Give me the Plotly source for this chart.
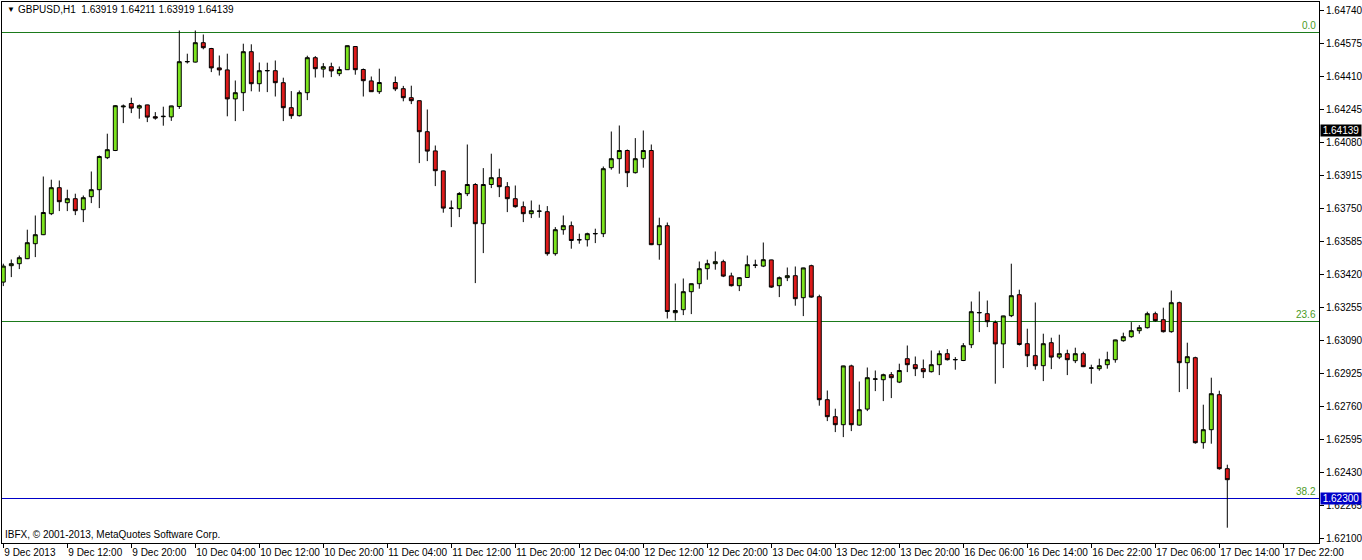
import plotly.graph_objects as go

# ---------------- data (GBPUSD H1) ----------------
time_labels = ["9 Dec 2013", "9 Dec 12:00", "9 Dec 20:00", "10 Dec 04:00", "10 Dec 12:00",
               "10 Dec 20:00", "11 Dec 04:00", "11 Dec 12:00", "11 Dec 20:00", "12 Dec 04:00",
               "12 Dec 12:00", "12 Dec 20:00", "13 Dec 04:00", "13 Dec 12:00", "13 Dec 20:00",
               "16 Dec 06:00", "16 Dec 14:00", "16 Dec 22:00", "17 Dec 06:00", "17 Dec 14:00",
               "17 Dec 22:00"]
label_step = 8  # bars between time labels

price_ticks = [1.64740, 1.64575, 1.64410, 1.64245, 1.64080, 1.63915, 1.63750, 1.63585, 1.63420,
               1.63255, 1.63090, 1.62925, 1.62760, 1.62595, 1.62430, 1.62265, 1.62100]

opens = [1.63382, 1.63464, 1.63474, 1.63499, 1.63574, 1.63619, 1.63724, 1.63854, 1.63779, 1.63799,
         1.63744, 1.63809, 1.63844, 1.64004, 1.64040, 1.64258, 1.64275, 1.64252, 1.64268, 1.64209,
         1.64209, 1.64208, 1.64260, 1.64483, 1.64482, 1.64579, 1.64550, 1.64453, 1.64443, 1.64298,
         1.64329, 1.64534, 1.64374, 1.64438, 1.64439, 1.64379, 1.64254, 1.64214, 1.64329, 1.64504,
         1.64447, 1.64459, 1.64424, 1.64444, 1.64560, 1.64445, 1.64388, 1.64334, None, 1.64380,
         1.64349, 1.64304, 1.64289, 1.64134, 1.64038, 1.63938, 1.63751, 1.63749, 1.63824, 1.63870,
         1.63674, 1.63870, 1.63904, 1.63859, 1.63799, 1.63759, 1.63724, 1.63736, 1.63734, 1.63524,
         1.63644, 1.63664, 1.63593, 1.63594, 1.63623, 1.63624, 1.63954, 1.63999, 1.64040, 1.63929,
         1.63999, 1.64040, 1.63569, 1.63664, 1.63229, 1.63244, 1.63334, 1.63374, 1.63449, 1.63474,
         1.63484, 1.63413, 1.63364, 1.63405, 1.63466, 1.63462, 1.63493, 1.63364, 1.63404, 1.63414,
         1.63304, 1.63464, 1.63309, 1.62794, 1.62709, 1.62669, 1.62963, 1.62667, 1.62747, 1.62896,
         1.62894, 1.62919, 1.62882, 1.62999, 1.62969, 1.62949, 1.62934, 1.62969, 1.63024, 1.62993,
         1.62990, 1.63069, 1.63228, 1.63224, 1.63180, 1.63073, 1.63214, 1.63319, 1.63074, 1.63014,
         1.62964, 1.63079, 1.63007, 1.63024, 1.62989, 1.63024, 1.62951, 1.62949, 1.62969, 1.62994,
         1.63089, 1.63109, 1.63139, 1.63154, 1.63224, 1.63194, 1.63134, 1.63279, 1.62979, 1.63004,
         1.62579, 1.62644, 1.62819, 1.62449]
highs = [1.63474, 1.63495, 1.63515, 1.63644, 1.63715, 1.63910, 1.63894, 1.63890, 1.63844, 1.63824,
         1.63815, 1.63935, 1.64015, 1.64124, 1.64267, 1.64270, 1.64304, 1.64270, 1.64269, 1.64232,
         1.64259, 1.64264, 1.64640, 1.64524, 1.64640, 1.64620, 1.64553, 1.64515, 1.64524, 1.64390,
         1.64574, 1.64571, 1.64480, 1.64479, 1.64490, 1.64404, 1.64337, 1.64340, 1.64514, 1.64512,
         1.64477, 1.64479, 1.64460, 1.64565, 1.64561, 1.64450, 1.64410, 1.64449, None, 1.64410,
         1.64363, 1.64364, 1.64290, 1.64245, 1.64065, 1.63940, 1.63790, 1.63832, 1.64070, 1.63877,
         1.63952, 1.64024, 1.63949, 1.63882, 1.63865, 1.63785, 1.63790, 1.63769, 1.63762, 1.63657,
         1.63715, 1.63685, 1.63624, 1.63629, 1.63649, 1.63960, 1.64135, 1.64165, 1.64045, 1.64102,
         1.64140, 1.64070, 1.63704, 1.63680, 1.63375, 1.63400, 1.63375, 1.63485, 1.63494, 1.63535,
         1.63494, 1.63429, 1.63407, 1.63515, 1.63494, 1.63580, 1.63494, 1.63410, 1.63455, 1.63460,
         1.63454, 1.63469, 1.63319, 1.62840, 1.62749, 1.62964, 1.62969, 1.62885, 1.62955, 1.62940,
         1.62924, 1.62932, 1.62974, 1.63065, 1.63010, 1.62995, 1.63040, 1.63040, 1.63047, 1.63007,
         1.63077, 1.63285, 1.63335, 1.63290, 1.63190, 1.63214, 1.63474, 1.63344, 1.63149, 1.63280,
         1.63124, 1.63104, 1.63119, 1.63044, 1.63054, 1.63034, 1.62969, 1.62999, 1.63034, 1.63094,
         1.63129, 1.63182, 1.63167, 1.63234, 1.63234, 1.63254, 1.63340, 1.63284, 1.63079, 1.63009,
         1.62769, 1.62904, 1.62839, 1.62469]
lows = [1.63362, 1.63407, 1.63447, 1.63497, 1.63507, 1.63617, 1.63717, 1.63737, 1.63737, 1.63717,
        1.63682, 1.63777, 1.63752, 1.63997, 1.64037, 1.64177, 1.64227, 1.64199, 1.64182, 1.64194,
        1.64164, 1.64188, 1.64248, 1.64475, 1.64480, 1.64546, 1.64432, 1.64415, 1.64211, 1.64187,
        1.64237, 1.64336, 1.64334, 1.64332, 1.64310, 1.64187, 1.64198, 1.64210, 1.64292, 1.64405,
        1.64405, 1.64407, 1.64412, 1.64443, 1.64419, 1.64310, 1.64333, 1.64323, None, 1.64337,
        1.64286, 1.64272, 1.63977, 1.63987, 1.63862, 1.63729, 1.63657, 1.63707, 1.63812, 1.63377,
        1.63527, 1.63852, 1.63807, 1.63732, 1.63754, 1.63682, 1.63702, 1.63704, 1.63514, 1.63514,
        1.63619, 1.63549, 1.63574, 1.63560, 1.63577, 1.63607, 1.63944, 1.63924, 1.63857, 1.63925,
        1.63954, 1.63567, 1.63494, 1.63200, 1.63190, 1.63217, 1.63222, 1.63349, 1.63394, 1.63444,
        1.63407, 1.63360, 1.63337, 1.63403, 1.63452, 1.63457, 1.63353, 1.63307, 1.63387, 1.63264,
        1.63212, 1.63304, 1.62764, 1.62687, 1.62632, 1.62607, 1.62637, 1.62664, 1.62737, 1.62837,
        1.62787, 1.62802, 1.62877, 1.62932, 1.62912, 1.62902, 1.62930, 1.62917, 1.62990, 1.62944,
        1.62987, 1.63052, 1.63132, 1.63157, 1.62874, 1.62952, 1.63207, 1.63065, 1.62957, 1.62944,
        1.62887, 1.62947, 1.62997, 1.62917, 1.62977, 1.62957, 1.62874, 1.62939, 1.62949, 1.62979,
        1.63084, 1.63104, 1.63124, 1.63150, 1.63184, 1.63130, 1.63129, 1.62832, 1.62847, 1.62574,
        1.62549, 1.62574, 1.62444, 1.62154]
closes = [1.63462, 1.63474, 1.63504, 1.63579, 1.63619, 1.63730, 1.63854, 1.63784, 1.63799, 1.63739,
          1.63804, 1.63844, 1.64010, 1.64044, 1.64264, 1.64262, 1.64252, 1.64264, 1.64207, 1.64202,
          1.64211, 1.64263, 1.64484, 1.64485, 1.64579, 1.64554, 1.64453, 1.64443, 1.64298, 1.64329,
          1.64534, 1.64374, 1.64439, 1.64440, 1.64379, 1.64254, 1.64214, 1.64329, 1.64504, 1.64449,
          1.64459, 1.64438, 1.64445, 1.64564, 1.64444, 1.64389, 1.64334, 1.64380, None, 1.64348,
          1.64304, 1.64289, 1.64134, 1.64037, 1.63939, 1.63752, 1.63752, 1.63825, 1.63870, 1.63674,
          1.63870, 1.63904, 1.63859, 1.63799, 1.63759, 1.63724, 1.63739, 1.63737, 1.63524, 1.63644,
          1.63664, 1.63590, 1.63594, 1.63624, 1.63625, 1.63949, 1.63999, 1.64040, 1.63929, 1.63999,
          1.64040, 1.63569, 1.63664, 1.63235, 1.63240, 1.63334, 1.63374, 1.63449, 1.63474, 1.63484,
          1.63412, 1.63364, 1.63404, 1.63469, 1.63467, 1.63494, 1.63357, 1.63404, 1.63414, 1.63299,
          1.63453, 1.63307, 1.62794, 1.62709, 1.62669, 1.62963, 1.62669, 1.62744, 1.62904, 1.62898,
          1.62919, 1.62904, 1.62940, 1.62969, 1.62949, 1.62934, 1.62969, 1.63024, 1.62994, 1.62995,
          1.63064, 1.63234, 1.63230, 1.63184, 1.63073, 1.63213, 1.63314, 1.63070, 1.63014, 1.62964,
          1.63074, 1.63007, 1.63024, 1.62994, 1.63024, 1.62959, 1.62953, 1.62964, 1.62994, 1.63093,
          1.63109, 1.63139, 1.63154, 1.63224, 1.63189, 1.63134, 1.63279, 1.62979, 1.63009, 1.62579,
          1.62644, 1.62824, 1.62449, 1.62394]

fib_levels = ["0.0", "23.6", "38.2"]
fib_prices = [1.64630, 1.63185, 1.62300]
hline_price = 1.62300          # blue horizontal line
last_price = 1.64139           # current bid (black label)
header_ohlc = [1.63919, 1.64211, 1.63919, 1.64139]

# ---------------- styling / geometry ----------------
W, H = 1362, 560
ML, MR, MT, MB = 2, 43, 2, 17
PW, PH = W - ML - MR, H - MT - MB
FONT = "Liberation Sans, Arial, sans-serif"
GREEN_BODY = "#7CE41E"
RED_BODY = "#DC1A1A"
FIB_COLOR = "#1B7A1B"
FIB_TEXT = "#4A9A1E"
BLUE = "#0000C8"

def px(xp):
    return (xp - ML) / PW

def py(yp):
    return (MT + PH - yp) / PH

n = len(opens)
xs = list(range(n))

fig = go.Figure()
fig.add_trace(go.Candlestick(
    x=xs, open=opens, high=highs, low=lows, close=closes,
    increasing=dict(fillcolor=GREEN_BODY, line=dict(color="black", width=1)),
    decreasing=dict(fillcolor=RED_BODY, line=dict(color="black", width=1)),
    whiskerwidth=0, showlegend=False, hoverinfo="skip",
))

shapes = []
for lvl, p in zip(fib_levels, fib_prices):
    if p == hline_price:
        continue  # hidden under the blue line
    shapes.append(dict(type="line", xref="paper", x0=0, x1=1, yref="y", y0=p, y1=p,
                       line=dict(color=FIB_COLOR, width=1), layer="below"))
shapes.append(dict(type="line", xref="paper", x0=0, x1=1, yref="y", y0=hline_price, y1=hline_price,
                   line=dict(color=BLUE, width=1), layer="below"))

annotations = []
for lvl, p in zip(fib_levels, fib_prices):
    annotations.append(dict(text=lvl, xref="paper", x=px(1318), xanchor="right",
                            yref="y", y=p, yanchor="bottom", showarrow=False,
                            font=dict(family=FONT, size=10, color=FIB_TEXT)))
# header
annotations.append(dict(text="▼", xref="paper", x=px(5), xanchor="left", yref="paper", y=py(10),
                        yanchor="middle", showarrow=False, font=dict(family=FONT, size=8, color="black")))
annotations.append(dict(text="GBPUSD,H1  " + " ".join(f"{v:.5f}" for v in header_ohlc),
                        xref="paper", x=px(16), xanchor="left", yref="paper", y=py(10),
                        yanchor="middle", showarrow=False, font=dict(family=FONT, size=10, color="black")))
annotations.append(dict(text="IBFX, © 2001-2013, MetaQuotes Software Corp.",
                        xref="paper", x=px(3), xanchor="left", yref="paper", y=py(534),
                        yanchor="middle", showarrow=False, font=dict(family=FONT, size=10, color="black")))
# price labels on the axis
annotations.append(dict(text=f"{last_price:.5f}", xref="paper", x=px(1320), xanchor="left",
                        yref="y", y=last_price, yanchor="middle", showarrow=False,
                        bgcolor="black", borderpad=0, width=40,
                        font=dict(family=FONT, size=10, color="white")))
annotations.append(dict(text=f"{hline_price:.5f}", xref="paper", x=px(1320), xanchor="left",
                        yref="y", y=hline_price, yanchor="middle", showarrow=False,
                        bgcolor=BLUE, borderpad=0, width=40,
                        font=dict(family=FONT, size=10, color="white")))

x_left = -0.1625
x_right = x_left + PW / 8.0
y_top = 1.647825            # half-pixel offset keeps horizontal 1px lines crisp
y_bot = y_top - PH / 20000.0

fig.update_layout(
    width=W, height=H,
    margin=dict(l=ML, r=MR, t=MT, b=MB, pad=0, autoexpand=False),
    paper_bgcolor="white", plot_bgcolor="white",
    boxgap=0.3,
    showlegend=False,
    shapes=shapes, annotations=annotations,
    font=dict(family=FONT, size=10, color="black"),
    xaxis=dict(
        range=[x_left, x_right], rangeslider=dict(visible=False),
        showgrid=False, zeroline=False, automargin=False,
        showline=True, linecolor="black", linewidth=1, mirror=True,
        ticks="outside", ticklen=4, tickcolor="black", tickangle=0,
        tickvals=[i * label_step for i in range(len(time_labels))],
        ticktext=time_labels, ticklabelposition="outside right",
        tickfont=dict(family=FONT, size=10, color="black"),
    ),
    yaxis=dict(
        range=[y_bot, y_top], side="right",
        showgrid=False, zeroline=False, automargin=False,
        showline=True, linecolor="black", linewidth=1, mirror=True,
        ticks="outside", ticklen=4, tickcolor="black",
        tickvals=price_ticks, ticktext=[f"{v:.5f}" for v in price_ticks],
        tickfont=dict(family=FONT, size=10, color="black"),
    ),
)

fig.write_html("out.html", config={"displayModeBar": False},
               post_script="document.body.style.margin='0px';document.body.style.overflow='hidden';")
